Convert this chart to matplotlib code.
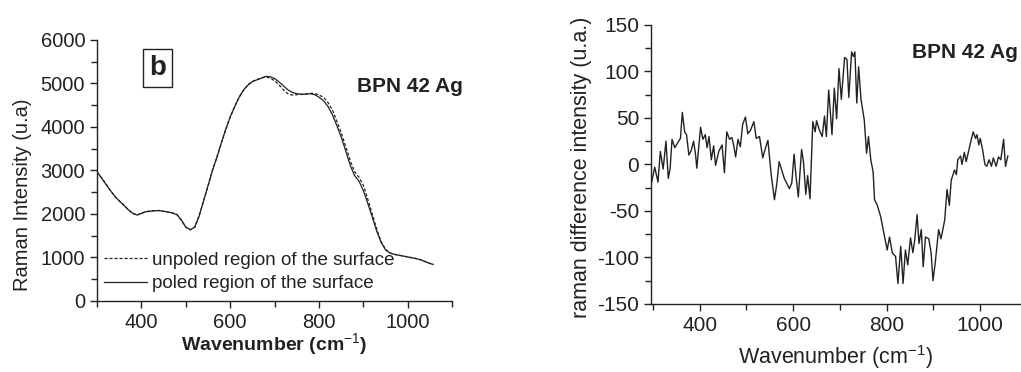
import matplotlib
matplotlib.use('Agg')
import matplotlib.pyplot as plt
from matplotlib.ticker import MultipleLocator

plt.rcParams['font.family'] = ['Liberation Sans', 'DejaVu Sans']
plt.rcParams['axes.unicode_minus'] = False
plt.rcParams['mathtext.fontset'] = 'custom'
plt.rcParams['mathtext.rm'] = 'Liberation Sans'
plt.rcParams['mathtext.bf'] = 'Liberation Sans:bold'

TEXT = '#222222'
LINE = '#222222'

# left panel: Raman spectra of poled / unpoled regions
wavenumber = [300, 310, 320, 330, 340, 350, 360, 370, 380, 390,
              400, 410, 420, 430, 440, 450, 460, 470, 480, 490,
              500, 510, 520, 530, 540, 550, 560, 570, 580, 590,
              600, 610, 620, 630, 640, 650, 660, 670, 680, 690,
              700, 710, 720, 730, 740, 750, 760, 770, 780, 790,
              800, 810, 820, 830, 840, 850, 860, 870, 880, 890,
              900, 910, 920, 930, 940, 950, 960, 970, 980, 990,
              1000, 1010, 1020, 1030, 1040, 1050, 1057]
poled = [2970, 2830, 2680, 2540, 2410, 2300, 2200, 2100, 2020, 1975,
         2010, 2050, 2060, 2075, 2075, 2060, 2045, 2020, 1980, 1860,
         1700, 1630, 1700, 1950, 2300, 2650, 3000, 3300, 3630, 3950,
         4230, 4460, 4680, 4850, 4960, 5040, 5080, 5120, 5160, 5150,
         5110, 5030, 4940, 4850, 4790, 4760, 4750, 4750, 4760, 4740,
         4680, 4600, 4470, 4280, 4030, 3760, 3450, 3120, 2880, 2750,
         2530, 2230, 1920, 1600, 1340, 1170, 1100, 1070, 1050, 1030,
         1010, 990, 970, 940, 900, 860, 840]
unpoled = [2960, 2830, 2690, 2540, 2400, 2300, 2210, 2100, 2010, 1970,
           2020, 2050, 2070, 2070, 2080, 2060, 2040, 2020, 1990, 1850,
           1690, 1640, 1690, 1960, 2300, 2640, 3000, 3310, 3630, 3940,
           4230, 4470, 4680, 4840, 4970, 5040, 5090, 5120, 5150, 5120,
           5060, 4960, 4850, 4760, 4730, 4740, 4745, 4760, 4770, 4770,
           4730, 4680, 4560, 4390, 4130, 3860, 3550, 3230, 2970, 2840,
           2650, 2330, 1990, 1650, 1360, 1180, 1100, 1070, 1050, 1030,
           1010, 990, 970, 940, 900, 860, 840]

# right panel: difference spectrum
diff_x = [297, 304, 311, 316, 322, 328, 333, 337, 341, 347, 354, 359, 363, 368,
          372, 377, 382, 387, 391, 394, 402, 407, 412, 416, 420, 425, 430, 434,
          441, 448, 453, 458, 464, 469, 473, 477, 482, 487, 492, 498, 503, 509,
          516, 521, 528, 535, 541, 546, 553, 560, 565, 570, 576, 581, 586, 592,
          597, 602, 606, 611, 618, 622, 627, 631, 636, 642, 647, 650, 656, 662,
          667, 671, 676, 683, 688, 693, 698, 703, 710, 715, 719, 725, 729, 732,
          736, 740, 745, 752, 757, 761, 766, 771, 774, 780, 787, 794, 801, 806,
          812, 819, 824, 830, 835, 840, 845, 851, 856, 860, 865, 869, 874, 878,
          883, 890, 895, 899, 904, 911, 916, 920, 924, 929, 934, 938, 945, 949,
          952, 958, 961, 966, 970, 975, 980, 985, 990, 993, 997, 1000, 1005, 1010,
          1014, 1019, 1024, 1028, 1034, 1039, 1044, 1050, 1054, 1059]
diff_y = [-20, -3, -19, 14, -5, 25, -15, -4, 27, 18, 24, 28, 56, 35,
          32, 10, 15, 25, 12, -4, 40, 27, 32, 18, 30, 5, 20, -1,
          14, 21, -9, 35, 27, 29, 20, 8, 27, 19, 43, 51, 33, 37,
          46, 28, 30, 7, 18, 26, -11, -38, -21, 3, -7, -15, -20, -26,
          -20, 11, -12, -35, 16, 3, -32, -12, -37, 46, 35, 47, 37, 30,
          52, 30, 80, 32, 82, 49, 103, 70, 115, 113, 72, 121, 116, 121,
          66, 105, 70, 48, 12, 30, 5, -8, -38, -44, -56, -74, -92, -78,
          -95, -99, -128, -88, -128, -92, -108, -79, -95, -81, -54, -85, -70, -110,
          -78, -80, -95, -125, -105, -70, -80, -70, -60, -27, -44, -17, -6, -11,
          5, 9, 0, 13, 3, 14, 25, 35, 28, 32, 21, 28, 16, 0,
          -2, 5, -2, 7, -2, 8, 5, 27, -2, 9]


def style_axes(ax, labelsize):
    ax.spines['top'].set_visible(False)
    ax.spines['right'].set_visible(False)
    for s in ('left', 'bottom'):
        ax.spines[s].set_color(TEXT)
        ax.spines[s].set_linewidth(1.0)
    ax.tick_params(which='both', direction='out', colors=TEXT, width=1.0,
                   labelsize=labelsize, labelcolor=TEXT)
    ax.tick_params(which='major', length=5)
    ax.tick_params(which='minor', length=4)
    ax.set_facecolor('white')


fig = plt.figure(figsize=(10.21, 3.72), dpi=100)
fig.patch.set_facecolor('white')

# ---- left panel ----
ax1 = fig.add_axes([0.095, 0.191, 0.348, 0.702])
ax1.plot(wavenumber, unpoled, color=LINE, lw=0.9, linestyle=(0, (2.5, 1.5)),
         label='unpoled region of the surface')
ax1.plot(wavenumber, poled, color=LINE, lw=0.9,
         label='poled region of the surface')
ax1.set_xlim(300, 1100)
ax1.set_ylim(0, 6000)
ax1.xaxis.set_major_locator(MultipleLocator(200))
ax1.xaxis.set_minor_locator(MultipleLocator(100))
ax1.yaxis.set_major_locator(MultipleLocator(1000))
ax1.yaxis.set_minor_locator(MultipleLocator(500))
style_axes(ax1, 14.5)
ax1.set_xlabel('Wavenumber (cm$^{-1}$)', fontsize=14, fontweight='bold',
               color=TEXT, labelpad=0)
ax1.set_ylabel('Raman Intensity (u.a)', fontsize=14.5, color=TEXT)
ax1.yaxis.set_label_coords(-0.183, 0.406)
ax1.text(0.171, 0.893, 'b', transform=ax1.transAxes, fontsize=20,
         fontweight='bold', color=TEXT, ha='center', va='center',
         bbox=dict(boxstyle='square,pad=0.22', facecolor='white',
                   edgecolor=TEXT, linewidth=1.0))
ax1.text(0.732, 0.822, 'BPN 42 Ag', transform=ax1.transAxes, fontsize=15,
         fontweight='bold', color=TEXT, ha='left', va='center')
ax1.legend(loc='lower left', bbox_to_anchor=(0.0, 0.004), frameon=False,
           fontsize=13.5, handlelength=2.25, handletextpad=0.27,
           labelspacing=0.36, borderaxespad=0.0, labelcolor=TEXT)

# ---- right panel ----
ax2 = fig.add_axes([0.6376, 0.183, 0.3614, 0.750])
ax2.plot(diff_x, diff_y, color=LINE, lw=1.0)
ax2.set_xlim(296, 1085)
ax2.set_ylim(-150, 150)
ax2.xaxis.set_major_locator(MultipleLocator(200))
ax2.xaxis.set_minor_locator(MultipleLocator(100))
ax2.yaxis.set_major_locator(MultipleLocator(50))
ax2.yaxis.set_minor_locator(MultipleLocator(25))
style_axes(ax2, 15)
ax2.set_xlabel('Wavenumber (cm$^{-1}$)', fontsize=15.5, color=TEXT, labelpad=6)
ax2.set_ylabel('raman difference intensity (u.a.)', fontsize=15.5, color=TEXT)
ax2.yaxis.set_label_coords(-0.16, 0.49)
ax2.text(0.707, 0.90, 'BPN 42 Ag', transform=ax2.transAxes, fontsize=15,
         fontweight='bold', color=TEXT, ha='left', va='center')

fig.savefig('out.png', dpi=100, facecolor='white')
